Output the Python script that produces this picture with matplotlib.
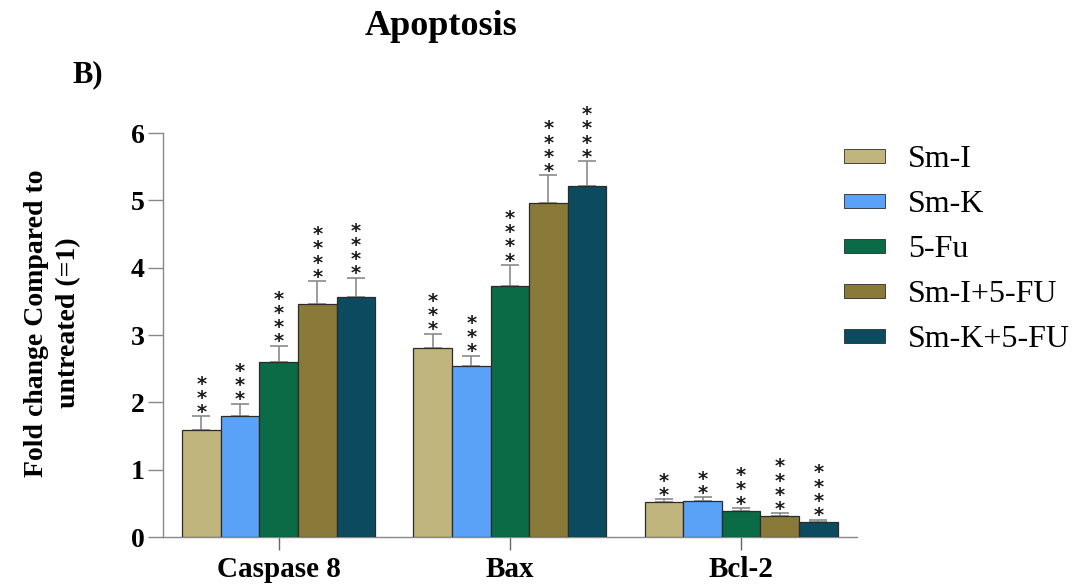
import numpy as np
import matplotlib
matplotlib.use('Agg')
import matplotlib.pyplot as plt
from matplotlib.patches import Patch

plt.rcParams['font.family'] = ['Liberation Serif', 'DejaVu Serif']

# data
genes = ['Caspase 8', 'Bax', 'Bcl-2']
groups = ['Sm-I', 'Sm-K', '5-Fu', 'Sm-I+5-FU', 'Sm-K+5-FU']
colors = ['#C0B57D', '#5AA2F7', '#0A6B46', '#8A7A3A', '#0B4A5F']

means = np.array([[1.59, 2.80, 0.52],
                  [1.80, 2.54, 0.54],
                  [2.60, 3.73, 0.39],
                  [3.46, 4.96, 0.31],
                  [3.57, 5.22, 0.23]])
errs = np.array([[0.20, 0.22, 0.04],
                 [0.18, 0.15, 0.05],
                 [0.24, 0.31, 0.04],
                 [0.34, 0.41, 0.04],
                 [0.28, 0.36, 0.03]])
stars = [[3, 3, 2],
         [3, 3, 2],
         [4, 4, 3],
         [4, 4, 4],
         [4, 4, 4]]

fig = plt.figure(figsize=(10.75, 5.86), dpi=100)
ax = fig.add_axes([0.1516, 0.0836, 0.797 - 0.1516, 0.773 - 0.0836])

x = np.arange(len(genes))
w = 0.167
for i in range(len(groups)):
    xi = x + (i - 2) * w
    ax.bar(xi, means[i], w, color=colors[i], edgecolor='#2b2b2b', linewidth=0.9,
           label=groups[i], zorder=3)
    ax.errorbar(xi, means[i], yerr=[np.zeros(3), errs[i]], fmt='none',
                ecolor='#8a8a8a', elinewidth=1.2, capsize=6.8, capthick=1.2, zorder=2)
    for j in range(len(genes)):
        top = means[i][j] + errs[i][j]
        # one stacked text per bar
        ax.annotate('\n'.join(['*'] * stars[i][j]), (xi[j], top), xytext=(0, -4),
                    textcoords='offset points', ha='center', va='bottom',
                    fontsize=14, fontweight='bold', family='DejaVu Sans',
                    linespacing=0.68, color='#1a1a1a', annotation_clip=False)

ax.set_xlim(-0.5, 2.5)
ax.set_ylim(0, 6)
ax.set_yticks(range(0, 7))
ax.set_xticks(x)
ax.set_xticklabels(genes, fontsize=21, fontweight='bold')
for t in ax.get_yticklabels():
    t.set_fontsize(20)
    t.set_fontweight('bold')
ax.tick_params(axis='y', length=11, width=1, color='#888888', pad=2)
ax.tick_params(axis='x', length=9, width=1, color='#666666', pad=5)
for s in ['top', 'right']:
    ax.spines[s].set_visible(False)
for s in ['left', 'bottom']:
    ax.spines[s].set_color('#888888')
    ax.spines[s].set_linewidth(1)

ax.set_ylabel('Fold change Compared to\nuntreated (=1)', fontsize=20,
              fontweight='bold', linespacing=1.35)
ax.yaxis.set_label_coords(-0.118, 0.53)

fig.text(0.41, 0.955, 'Apoptosis', fontsize=26, fontweight='bold',
         ha='center', va='center')
fig.text(0.067, 0.872, 'B)', fontsize=22, fontweight='bold',
         ha='left', va='center')

handles = [Patch(facecolor=c, edgecolor='#2b2b2b', linewidth=0.6) for c in colors]
fig.legend(handles, groups, loc='upper left', bbox_to_anchor=(0.785, 0.752),
           frameon=False, fontsize=23, handlelength=1.28, handleheight=0.3,
           labelspacing=0.5, handletextpad=0.72, borderpad=0, borderaxespad=0)

fig.savefig('out.png', dpi=100)
